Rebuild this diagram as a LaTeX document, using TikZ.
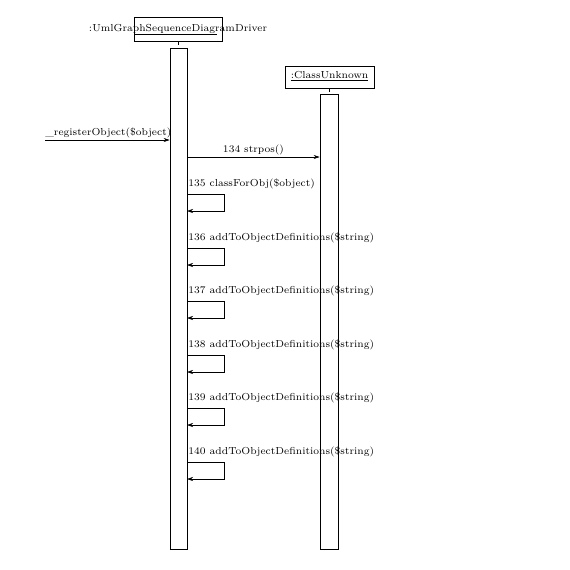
\documentclass[tikz,border=0pt]{standalone}
\usetikzlibrary{arrows.meta}
\begin{document}
\begin{tikzpicture}[x=1pt,y=-1pt,
  lbl/.style={font=\fontsize{7}{8}\selectfont, inner sep=0pt, scale=1.45},
  obj/.style={draw, line width=0.6pt, inner sep=0pt},
  act/.style={draw, line width=0.6pt, fill=white},
  msg/.style={line width=0.6pt, -{Stealth[length=6pt,width=4pt]}},
  every path/.style={line width=0.6pt}]
\useasboundingbox (0,0) rectangle (570,570);
% object 1
\node[lbl] (o1t) at (178,29) {:UmlGraphSequenceDiagramDriver};
\node[obj, minimum width=88pt, minimum height=24pt] (o1) at (178,29) {};
\draw (134,34.5) -- (217,34.5);
\draw (o1.south) -- (178,45);
\node[act, minimum width=17pt, minimum height=501pt, inner sep=0pt] (a1) at (178.5,298.5) {};
% object 2
\node[obj, minimum width=89pt, minimum height=22pt] (o2) at (329.5,77) {};
\node[lbl] (o2t) at (329.5,76.5) {\underline{:ClassUnknown}};
\draw (o2.south) -- (329.5,92);
\node[act, minimum width=18pt, minimum height=455pt, inner sep=0pt] (a2) at (329,321.5) {};
% incoming message
\coordinate (in) at (45,140);
\node[lbl, anchor=south west] (m0) at (45,138.5) {\_registerObject(\$object)};
\draw[msg] (in) -- (a1.west |- in);
% 134
\node[lbl, anchor=south] (m1) at (253.5,155.5) {134 strpos()};
\draw[msg] (a1.east |- 0,157) -- (a2.west |- 0,157);
% self messages
\foreach \y/\t [count=\i] in {184/{135 classForObj(\$object)},238/{136 addToObjectDefinitions(\$string)},291/{137 addToObjectDefinitions(\$string)},345/{138 addToObjectDefinitions(\$string)},398/{139 addToObjectDefinitions(\$string)},452/{140 addToObjectDefinitions(\$string)}}{
  \node[lbl, anchor=west] (s\i) at (188,\y) {\t};
  \coordinate (st\i) at (187,\y+10.5);
  \coordinate (sc\i) at (224,\y+10.5);
  \coordinate (sd\i) at (224,\y+27);
  \coordinate (se\i) at (187,\y+27);
  \draw[msg] (st\i) -- (sc\i) -- (sd\i) -- (se\i);
}
\end{tikzpicture}
\end{document}
